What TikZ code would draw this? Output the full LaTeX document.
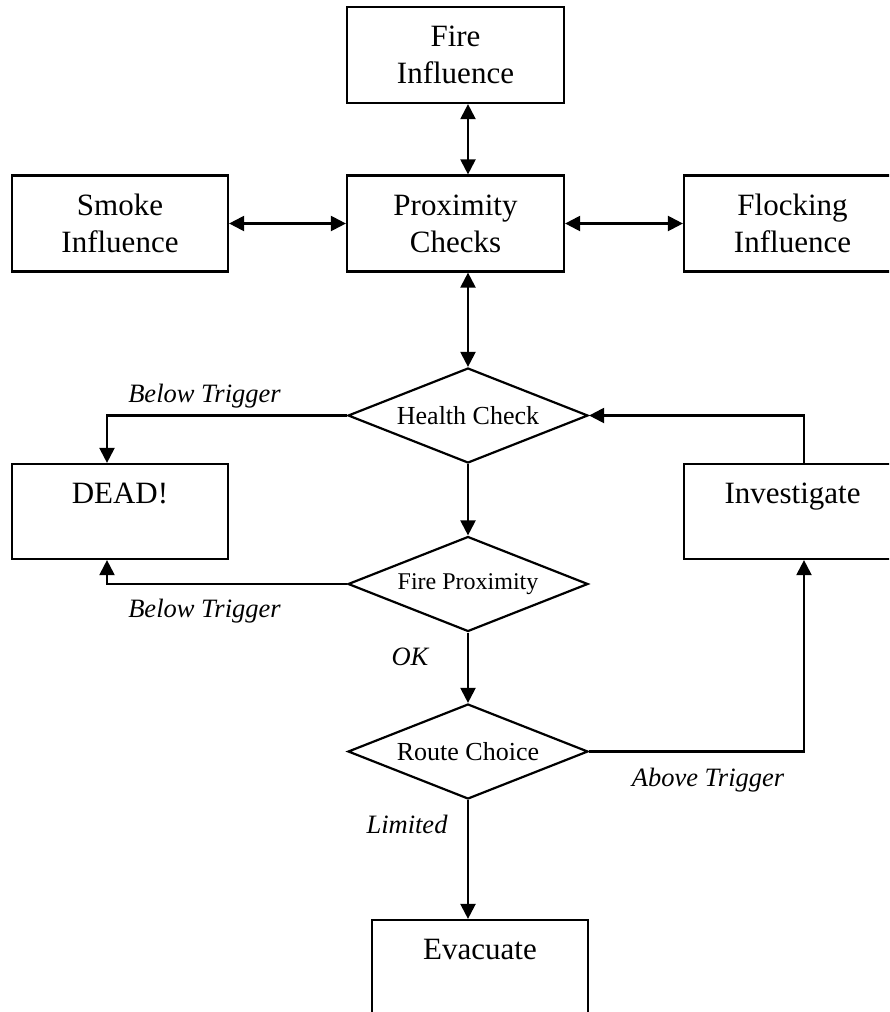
\documentclass[tikz,border=0pt]{standalone}
\usepackage{fontspec}
\setmainfont{Liberation Serif}
\usetikzlibrary{arrows.meta,shapes.geometric}
\begin{document}
\begin{tikzpicture}[x=1pt,y=-1pt,
  box/.style={draw, line width=2.2pt, minimum width=217pt, minimum height=96pt,
    inner sep=0pt, align=center, font=\fontsize{31}{37}\selectfont},
  dia/.style={draw, line width=2.2pt, diamond, aspect=2.53, minimum width=240pt,
    minimum height=95pt, inner sep=0pt},
  lbl/.style={anchor=base, inner sep=0pt, font=\fontsize{26.5}{30}\selectfont\itshape},
  conn/.style={line width=2.2pt, -{Triangle[length=15pt,width=15pt]}},
  bconn/.style={line width=2.2pt, {Triangle[length=15pt,width=15pt]}-{Triangle[length=15pt,width=15pt]}}]
\useasboundingbox (0,0) rectangle (889,1012);
\clip (0,0) rectangle (889,1012);
\fill[white] (0,0) rectangle (889,1012);

\node[box] (fire) at (455.5,55) {Fire\\Influence};
\node[box] (prox) at (455.5,223.5) {Proximity\\Checks};
\node[box, minimum width=216pt] (smoke) at (120,223.5) {Smoke\\Influence};
\node[box] (flock) at (792.5,223.5) {Flocking\\Influence};
\node[box, minimum width=216pt, minimum height=95pt] (dead) at (120,511.5) {DEAD!\\\mbox{}};
\node[box, minimum height=95pt] (invest) at (792.5,511.5) {Investigate\\\mbox{}};
\node[box, minimum width=216pt] (evac) at (480,968) {Evacuate\\\mbox{}};

\node[dia, font=\fontsize{26}{30}\selectfont] (health) at (468,415.5) {Health Check};
\node[dia, font=\fontsize{24}{28}\selectfont] (firep) at (468,584) {Fire Proximity};
\node[dia, font=\fontsize{26}{30}\selectfont] (route) at (468,751.5) {Route Choice};

\draw[bconn] (fire.south -| health.north) -- (prox.north -| health.north);
\draw[bconn] (smoke.east) -- (prox.west);
\draw[bconn] (prox.east) -- (flock.west);
\draw[bconn] (prox.south -| health.north) -- (health.north);

\draw[conn] (health.west) -| ([xshift=-13pt]dead.north);
\draw[conn] (firep.west) -| ([xshift=-13pt]dead.south);
\draw[conn] (health.south) -- (firep.north);
\draw[conn] (firep.south) -- (route.north);
\draw[conn] (route.south) -- (evac.north -| route.south);
\draw[conn] (route.east) -| ([xshift=11.5pt]invest.south);
\draw[conn] ([xshift=11.5pt]invest.north) |- (health.east);

\node[lbl] (l1) at (204.5,402) {Below Trigger};
\node[lbl] (l2) at (204.5,617) {Below Trigger};
\node[lbl] (l3) at (410,665) {OK};
\node[lbl] (l4) at (407,833) {Limited};
\node[lbl] (l5) at (708,786) {Above Trigger};
\end{tikzpicture}
\end{document}
